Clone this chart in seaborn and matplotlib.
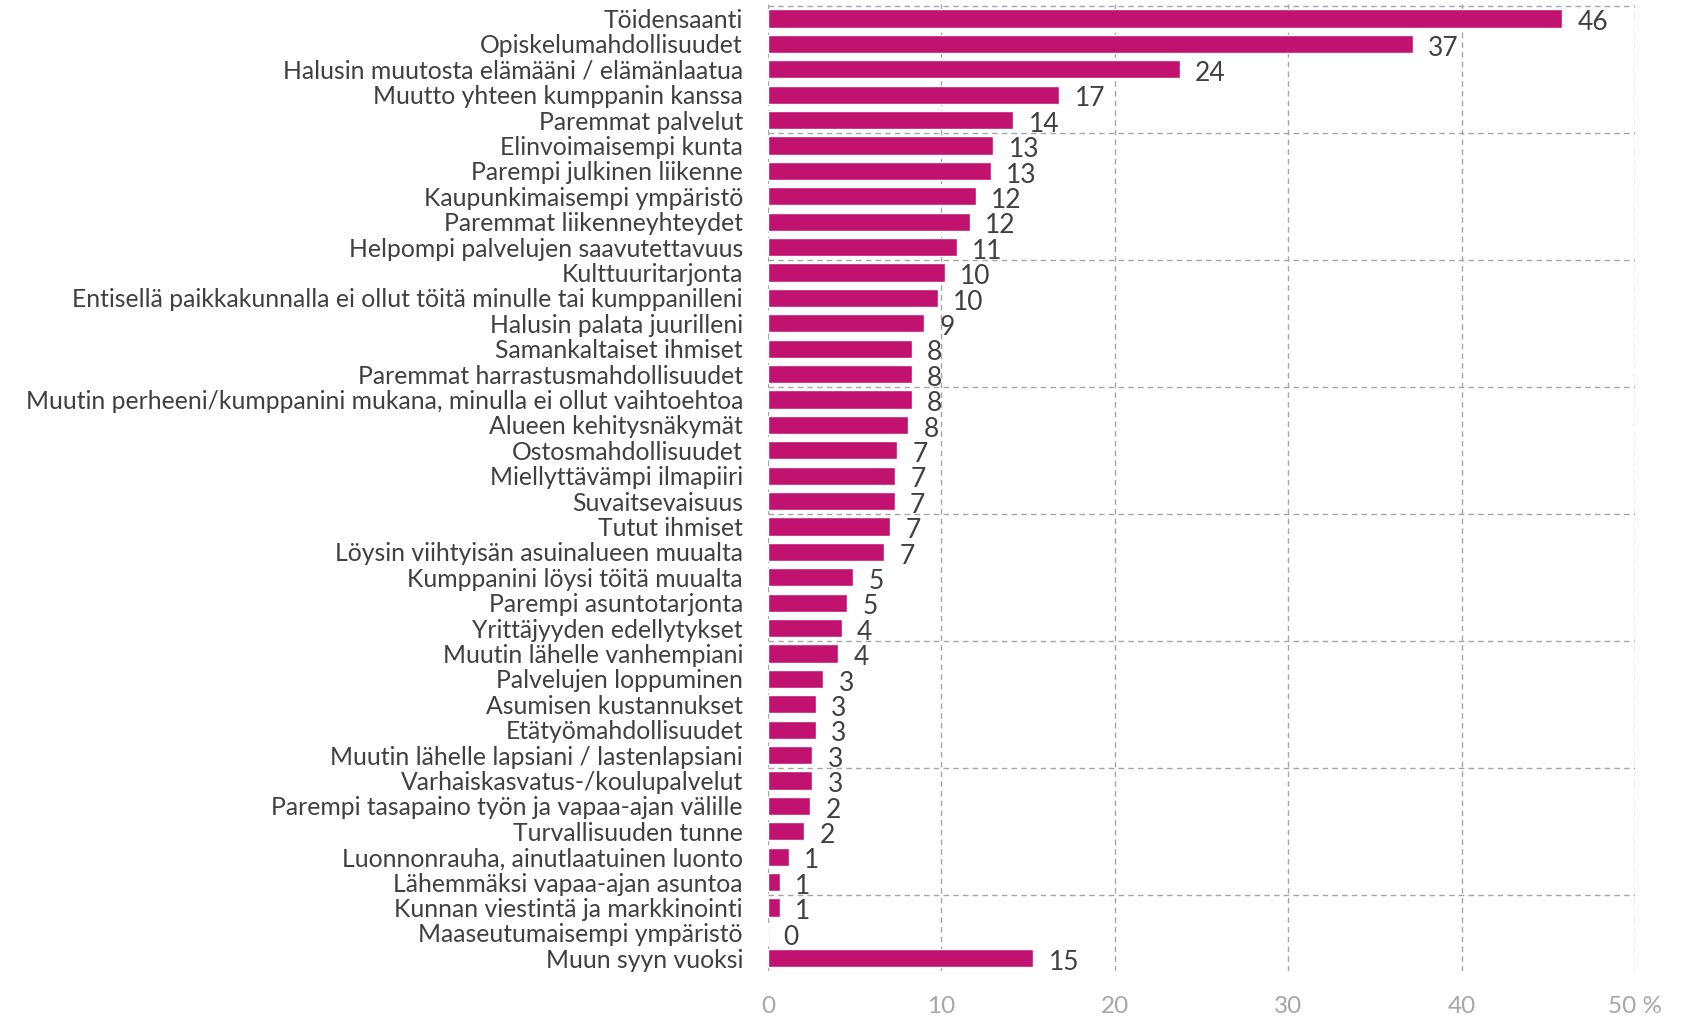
"""Muuton syyt: vaakapylväskaavio (%)"""

import numpy as np
import pandas as pd
import matplotlib.pyplot as plt
import seaborn as sns

# Data (percent of respondents)
categories = [
    "Töidensaanti",
    "Opiskelumahdollisuudet",
    "Halusin muutosta elämääni / elämänlaatua",
    "Muutto yhteen kumppanin kanssa",
    "Paremmat palvelut",
    "Elinvoimaisempi kunta",
    "Parempi julkinen liikenne",
    "Kaupunkimaisempi ympäristö",
    "Paremmat liikenneyhteydet",
    "Helpompi palvelujen saavutettavuus",
    "Kulttuuritarjonta",
    "Entisellä paikkakunnalla ei ollut töitä minulle tai kumppanilleni",
    "Halusin palata juurilleni",
    "Samankaltaiset ihmiset",
    "Paremmat harrastusmahdollisuudet",
    "Muutin perheeni/kumppanini mukana, minulla ei ollut vaihtoehtoa",
    "Alueen kehitysnäkymät",
    "Ostosmahdollisuudet",
    "Miellyttävämpi ilmapiiri",
    "Suvaitsevaisuus",
    "Tutut ihmiset",
    "Löysin viihtyisän asuinalueen muualta",
    "Kumppanini löysi töitä muualta",
    "Parempi asuntotarjonta",
    "Yrittäjyyden edellytykset",
    "Muutin lähelle vanhempiani",
    "Palvelujen loppuminen",
    "Asumisen kustannukset",
    "Etätyömahdollisuudet",
    "Muutin lähelle lapsiani / lastenlapsiani",
    "Varhaiskasvatus-/koulupalvelut",
    "Parempi tasapaino työn ja vapaa-ajan välille",
    "Turvallisuuden tunne",
    "Luonnonrauha, ainutlaatuinen luonto",
    "Lähemmäksi vapaa-ajan asuntoa",
    "Kunnan viestintä ja markkinointi",
    "Maaseutumaisempi ympäristö",
    "Muun syyn vuoksi",
]
values = [
    45.8, 37.2, 23.75, 16.8, 14.15, 13.0, 12.85, 12.0, 11.65, 10.9,
    10.2, 9.8, 9.0, 8.3, 8.3, 8.3, 8.1, 7.45, 7.35, 7.3,
    7.05, 6.7, 4.9, 4.55, 4.25, 4.05, 3.2, 2.75, 2.75, 2.55,
    2.55, 2.45, 2.1, 1.2, 0.7, 0.7, 0.0, 15.3,
]
x_ticks = [0, 10, 20, 30, 40, 50]
x_ticklabels = ["0", "10", "20", "30", "40", "50 %"]

df = pd.DataFrame({"syy": categories, "osuus": values})

bar_color = "#C2126F"
text_color = "#404040"
tick_color = "#A6A6A6"
grid_color = "#A6A6A6"

sns.set_theme(style="white")
plt.rcParams["font.family"] = ["Lato", "DejaVu Sans"]

fig = plt.figure(figsize=(16.96, 10.17), dpi=100)
ax = fig.add_axes([0.4528, 0.0452, 0.5112, 0.9506])

sns.barplot(data=df, x="osuus", y="syy", color=bar_color, width=0.72,
            saturation=1, ax=ax)

ax.set_xlim(0, 50)
ax.set_ylim(len(categories) - 0.5, -0.56)

# dashed grid: vertical every 10 %, horizontal every 5 categories
ax.set_xticks(x_ticks)
ax.set_xticklabels(x_ticklabels)
ax.set_yticks(np.arange(-0.5, len(categories) - 1, 5), minor=True)
ax.grid(axis="x", which="major", color=grid_color, linestyle=(0, (4, 3)), linewidth=1)
ax.grid(axis="y", which="minor", color=grid_color, linestyle=(0, (4, 3)), linewidth=1)
ax.set_axisbelow(True)

for s in ax.spines.values():
    s.set_visible(False)

ax.tick_params(axis="y", which="both", length=0, pad=18, labelsize=17.8, labelcolor=text_color)
ax.tick_params(axis="x", length=0, pad=18, labelsize=17.5, labelcolor=tick_color)
ax.set_xlabel("")
ax.set_ylabel("")

# value labels to the right of each bar
for i, v in enumerate(values):
    ax.annotate(f"{v:.0f}", xy=(v, i), xytext=(11, -3), textcoords="offset points",
                ha="left", va="center", fontsize=19, color=text_color)

plt.savefig("out.png", dpi=100)
print("saved out.png")
